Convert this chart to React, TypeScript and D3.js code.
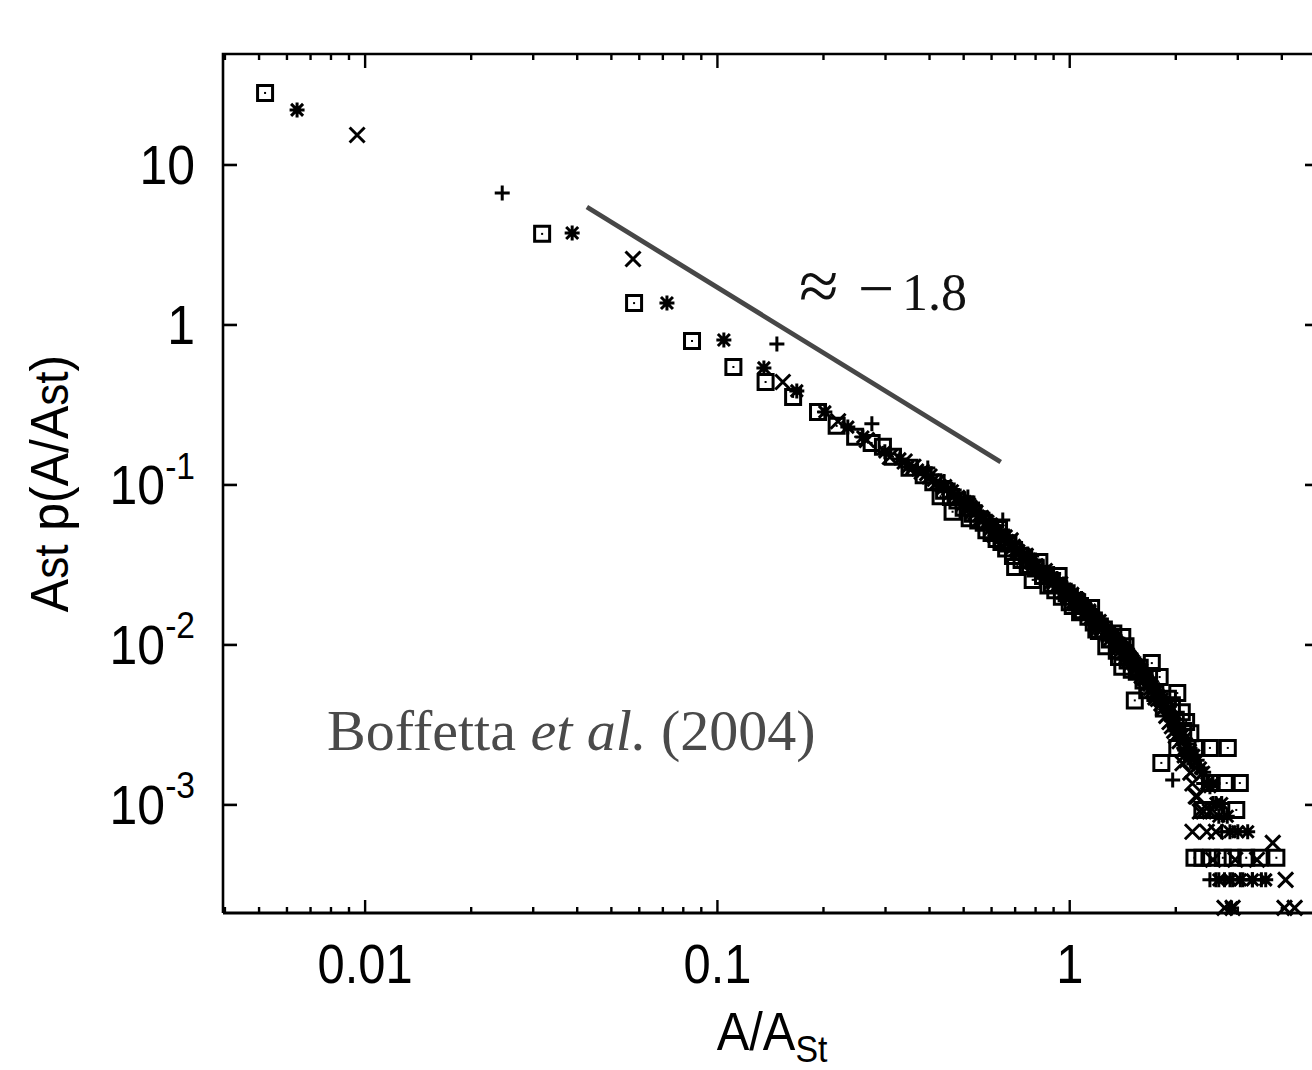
import React from "react";
import * as d3 from "d3";

const W = 1312;
const H = 1070;
const FRAME = { left: 223, top: 54, right: 1319, bottom: 913 };

const xDomain: [number, number] = [0.00395, 5.1];
const yDomain: [number, number] = [2.11e-4, 49.4];

const xTickLabels = [
  { v: 0.01, t: "0.01" },
  { v: 0.1, t: "0.1" },
  { v: 1, t: "1" },
];
const yTickLabels = [
  { v: 10, b: "10", e: "" },
  { v: 1, b: "1", e: "" },
  { v: 0.1, b: "10", e: "-1" },
  { v: 0.01, b: "10", e: "-2" },
  { v: 0.001, b: "10", e: "-3" },
];

// fitted slope guide line (endpoints)
const fitLine: [number, number][] = [
  [0.0426, 5.46],
  [0.637, 0.139],
];

// series 1: open squares
const squares: [number, number][] = [
  [0.0052, 28.2], [0.0318, 3.71], [0.058, 1.37], [0.0847, 0.794], [0.111, 0.546],
  [0.137, 0.44], [0.164, 0.355], [0.193, 0.286], [0.218, 0.234], [0.246, 0.2],
  [0.274, 0.183], [0.295, 0.173], [0.315, 0.15], [0.351, 0.128],
  [0.385, 0.115], [0.41, 0.104], [0.43, 0.085], [0.44, 0.092], [0.46, 0.084],
  [0.465, 0.068], [0.48, 0.08],
  [0.5, 0.072], [0.52, 0.062], [0.53, 0.066], [0.55, 0.06], [0.57, 0.058],
  [0.58, 0.052], [0.6, 0.05], [0.62, 0.046], [0.63, 0.053], [0.64, 0.044],
  [0.66, 0.04], [0.67, 0.043], [0.69, 0.036], [0.7, 0.0307], [0.73, 0.034],
  [0.76, 0.031], [0.785, 0.0255], [0.8, 0.03], [0.82, 0.033], [0.84, 0.027],
  [0.87, 0.0235], [0.89, 0.024], [0.91, 0.022], [0.93, 0.027], [0.95, 0.02],
  [0.98, 0.021], [1.0, 0.0185], [1.02, 0.0175], [1.05, 0.0185], [1.07, 0.016],
  [1.09, 0.0165], [1.13, 0.015], [1.15, 0.017], [1.17, 0.0138], [1.19, 0.0125],
  [1.21, 0.0122], [1.25, 0.0125], [1.27, 0.0098], [1.3, 0.0108], [1.33, 0.0118],
  [1.36, 0.0092], [1.38, 0.0084], [1.41, 0.0112], [1.41, 0.0073], [1.44, 0.0098],
  [1.46, 0.008], [1.5, 0.007], [1.53, 0.0045], [1.55, 0.0068], [1.58, 0.0072],
  [1.62, 0.006], [1.66, 0.0052], [1.68, 0.0064], [1.71, 0.0077], [1.75, 0.005],
  [1.8, 0.0063], [1.85, 0.004], [1.9, 0.0046], [1.95, 0.0042], [2.02, 0.005],
  [2.0, 0.0034], [2.08, 0.0038], [2.1, 0.0029], [2.14, 0.0033], [2.2, 0.0028],
  [2.02, 0.00227], [2.16, 0.00227], [2.29, 0.00227], [2.5, 0.00227], [2.81, 0.00227],
  [1.82, 0.00183],
  [2.5, 0.00137], [2.79, 0.00137], [3.04, 0.00137],
  [2.38, 0.00093], [2.61, 0.00093], [2.97, 0.00093],
  [2.26, 0.000467], [2.38, 0.000467], [2.52, 0.000467], [2.72, 0.000467],
  [2.9, 0.000467], [3.17, 0.000467], [3.46, 0.000467], [3.86, 0.000467],
];

// series 2: asterisks
const asterisks: [number, number][] = [
  [0.00641, 22.1], [0.0387, 3.76], [0.0719, 1.372], [0.1043, 0.806], [0.1355, 0.539],
  [0.168, 0.387], [0.2018, 0.286], [0.2345, 0.23], [0.2587, 0.1995], [0.2987, 0.161],
  [0.3295, 0.1454], [0.347, 0.1296],
  [0.37, 0.124], [0.39, 0.116], [0.41, 0.107], [0.43, 0.099], [0.45, 0.094],
  [0.47, 0.086], [0.49, 0.08], [0.51, 0.074], [0.52, 0.076], [0.53, 0.07], [0.55, 0.064],
  [0.57, 0.061], [0.59, 0.056], [0.6, 0.057], [0.61, 0.052], [0.63, 0.049], [0.65, 0.046],
  [0.66, 0.048], [0.68, 0.042], [0.7, 0.039], [0.72, 0.037], [0.74, 0.037], [0.75, 0.034],
  [0.78, 0.032], [0.79, 0.03], [0.81, 0.03], [0.84, 0.028], [0.86, 0.028], [0.87, 0.026],
  [0.9, 0.0245], [0.93, 0.023], [0.95, 0.023], [0.97, 0.021], [1.0, 0.0198], [1.02, 0.021],
  [1.04, 0.0185], [1.06, 0.0175], [1.08, 0.0172], [1.12, 0.016], [1.14, 0.0165],
  [1.16, 0.0146], [1.2, 0.0135], [1.22, 0.0142], [1.24, 0.0126], [1.28, 0.0116],
  [1.3, 0.0118], [1.33, 0.0105], [1.35, 0.0108], [1.37, 0.0098], [1.4, 0.0096],
  [1.42, 0.009], [1.45, 0.0092], [1.47, 0.0082], [1.5, 0.0082], [1.52, 0.0075],
  [1.55, 0.0075], [1.57, 0.0069], [1.6, 0.007], [1.62, 0.0062], [1.65, 0.0063],
  [1.68, 0.0056], [1.7, 0.0058], [1.74, 0.005], [1.77, 0.0052], [1.8, 0.0045],
  [1.83, 0.0046], [1.86, 0.0041], [1.9, 0.004], [1.93, 0.0036], [1.97, 0.0035],
  [2.0, 0.0032], [2.04, 0.003], [2.08, 0.0027], [2.12, 0.0026], [2.15, 0.0024],
  [2.2, 0.0022], [2.3, 0.0019], [2.4, 0.0016], [2.5, 0.0013],
  [2.25, 0.00204], [2.35, 0.0017], [2.45, 0.00136], [2.55, 0.00136], [2.6, 0.00102],
  [2.7, 0.00102], [2.65, 0.00085], [2.8, 0.00085], [2.85, 0.00068], [3.0, 0.00068],
  [3.2, 0.00068],
  [2.65, 0.00034], [2.85, 0.00034], [3.05, 0.00034], [3.3, 0.00034], [3.6, 0.00034],
  [2.88, 0.000227],
];

// series 3: crosses
const crosses: [number, number][] = [
  [0.00949, 15.4], [0.0576, 2.585], [0.1533, 0.44], [0.22, 0.25], [0.2655, 0.191],
  [0.3086, 0.1496],
  [0.34, 0.14], [0.36, 0.13], [0.38, 0.121], [0.4, 0.113], [0.42, 0.104],
  [0.44, 0.097], [0.46, 0.09], [0.48, 0.083], [0.5, 0.077], [0.52, 0.072],
  [0.53, 0.068], [0.54, 0.067], [0.56, 0.062], [0.58, 0.058], [0.6, 0.054],
  [0.61, 0.049], [0.62, 0.051], [0.64, 0.047], [0.66, 0.044], [0.68, 0.045],
  [0.69, 0.041], [0.71, 0.038], [0.74, 0.035], [0.75, 0.036], [0.77, 0.033],
  [0.8, 0.031], [0.83, 0.028], [0.85, 0.029], [0.86, 0.027], [0.89, 0.025],
  [0.92, 0.0235], [0.94, 0.024], [0.96, 0.0215], [0.99, 0.0202], [1.03, 0.0188],
  [1.05, 0.019], [1.07, 0.0175], [1.11, 0.016], [1.13, 0.0158], [1.15, 0.0149],
  [1.19, 0.0138], [1.21, 0.013], [1.23, 0.0128], [1.27, 0.0119], [1.29, 0.0115],
  [1.31, 0.011], [1.36, 0.01], [1.38, 0.0097], [1.4, 0.0093], [1.45, 0.0085],
  [1.47, 0.0083], [1.5, 0.0078], [1.55, 0.0071], [1.57, 0.0068], [1.6, 0.0064],
  [1.63, 0.0062], [1.66, 0.0057], [1.7, 0.0054], [1.72, 0.0052], [1.75, 0.0047],
  [1.78, 0.0046], [1.82, 0.0043], [1.84, 0.004], [1.88, 0.0036], [1.92, 0.0033],
  [1.95, 0.0031], [1.98, 0.0029], [2.0, 0.0027], [2.05, 0.0025], [2.1, 0.0022],
  [2.15, 0.0019],
  [2.09, 0.00182], [2.12, 0.00204], [2.2, 0.00159], [2.23, 0.00136], [2.28, 0.00113],
  [2.3, 0.00113], [2.34, 0.00091], [2.4, 0.00091], [2.5, 0.00091],
  [2.23, 0.00068], [2.45, 0.00068], [2.6, 0.00068], [3.77, 0.000579],
  [2.55, 0.000454], [2.95, 0.000454], [3.4, 0.000454], [4.1, 0.00034],
  [2.75, 0.000227], [2.9, 0.000227], [4.07, 0.000227], [4.35, 0.000227],
];

// series 4: plus signs
const pluses: [number, number][] = [
  [0.0245, 6.68], [0.1475, 0.761], [0.2744, 0.241], [0.3955, 0.1277],
  [0.44, 0.105], [0.47, 0.093], [0.5, 0.082], [0.514, 0.0841], [0.53, 0.077],
  [0.56, 0.068], [0.59, 0.061], [0.62, 0.055], [0.64, 0.051], [0.6456, 0.0604],
  [0.67, 0.048], [0.7, 0.043], [0.73, 0.04], [0.76, 0.037], [0.78, 0.036],
  [0.8, 0.034], [0.84, 0.031], [0.88, 0.028], [0.9, 0.028], [0.92, 0.026],
  [0.96, 0.024], [0.98, 0.023], [1.01, 0.022], [1.05, 0.02], [1.08, 0.0195],
  [1.1, 0.018], [1.15, 0.0165], [1.17, 0.0158], [1.2, 0.015], [1.23, 0.0145],
  [1.26, 0.0133], [1.31, 0.0122], [1.34, 0.0118], [1.37, 0.011], [1.4, 0.0104],
  [1.43, 0.0098], [1.46, 0.0094], [1.49, 0.0088], [1.52, 0.0083], [1.55, 0.0078],
  [1.58, 0.0074], [1.62, 0.0068], [1.65, 0.0064], [1.69, 0.0059], [1.72, 0.0056],
  [1.76, 0.0051], [1.8, 0.0048], [1.83, 0.0044], [1.87, 0.0041], [1.9, 0.0038],
  [1.94, 0.0035], [1.98, 0.0032], [2.0, 0.0029],
  [2.05, 0.0026], [2.12, 0.0022], [2.15, 0.0021], [2.2, 0.0019], [2.25, 0.0018],
  [1.96, 0.00143], [2.3, 0.0017], [2.4, 0.00136], [2.55, 0.00102], [2.7, 0.00068],
  [2.5, 0.00034], [2.6, 0.00034], [2.75, 0.00034], [2.9, 0.00034], [3.1, 0.00034],
  [3.3, 0.00034], [3.5, 0.00034],
];

const SANS = "'Liberation Sans', Arial, Helvetica, sans-serif";
const SERIF = "'Liberation Serif', 'Times New Roman', serif";

export default function App() {
  const x = d3.scaleLog().domain(xDomain).range([FRAME.left, FRAME.right]);
  const y = d3.scaleLog().domain(yDomain).range([FRAME.bottom, FRAME.top]);

  const xt = x.ticks().filter((v) => x(v) > FRAME.left + 1 && x(v) < FRAME.right - 1);
  const isMajor = (v: number) => Math.abs(Math.log10(v) - Math.round(Math.log10(v))) < 1e-6;
  const yt = y.ticks().filter(isMajor);

  const r = 7.5;
  const sw = 3;
  const squarePath = (cx: number, cy: number) =>
    `M${cx - r},${cy - r}H${cx + r}V${cy + r}H${cx - r}Z`;
  const crossPath = (cx: number, cy: number) =>
    `M${cx - r},${cy - r}L${cx + r},${cy + r}M${cx - r},${cy + r}L${cx + r},${cy - r}`;
  const plusPath = (cx: number, cy: number) =>
    `M${cx - r},${cy}H${cx + r}M${cx},${cy - r}V${cy + r}`;
  const starPath = (cx: number, cy: number) => {
    const d = r * 0.8;
    return `M${cx - r},${cy}H${cx + r}M${cx},${cy - r}V${cy + r}M${cx - d},${cy - d}L${cx + d},${cy + d}M${cx - d},${cy + d}L${cx + d},${cy - d}`;
  };

  const fitGen = d3
    .line<[number, number]>()
    .x((d) => x(d[0]))
    .y((d) => y(d[1]));

  return (
    <svg
      width={W}
      height={H}
      style={{ position: "absolute", left: 0, top: 0, background: "#fff" }}
    >
      <rect x={0} y={0} width={W} height={H} fill="#fff" />
      {/* frame */}
      <path
        d={`M${FRAME.left},${FRAME.bottom}V${FRAME.top}H${FRAME.right}V${FRAME.bottom}`}
        fill="none"
        stroke="#000"
        strokeWidth={2.6}
      />
      <line x1={FRAME.left} x2={FRAME.right} y1={FRAME.bottom} y2={FRAME.bottom} stroke="#000" strokeWidth={3.2} />

      {/* x ticks, bottom & top */}
      {xt.map((v, i) => {
        const px = x(v);
        const len = isMajor(v) ? 13 : 6;
        return (
          <g key={"xt" + i}>
            <line x1={px} x2={px} y1={FRAME.bottom} y2={FRAME.bottom - len} stroke="#000" strokeWidth={2.4} />
            <line x1={px} x2={px} y1={FRAME.top} y2={FRAME.top + len + (isMajor(v) ? 1 : 0)} stroke="#000" strokeWidth={2.4} />
          </g>
        );
      })}
      {/* y ticks, left & right */}
      {yt.map((v, i) => {
        const py = y(v);
        return (
          <g key={"yt" + i}>
            <line x1={FRAME.left} x2={FRAME.left + 14} y1={py} y2={py} stroke="#000" strokeWidth={2.6} />
            <line x1={FRAME.right} x2={FRAME.right - 14} y1={py} y2={py} stroke="#000" strokeWidth={2.6} />
          </g>
        );
      })}

      {/* tick labels */}
      {xTickLabels.map((d) => (
        <text
          key={"xl" + d.t}
          transform={`translate(${x(d.v)},983) scale(0.94,1.06)`}
          textAnchor="middle"
          fontFamily={SANS}
          fontSize={52}
          fill="#000"
        >
          {d.t}
        </text>
      ))}
      {yTickLabels.map((d) => (
        <text
          key={"yl" + d.v}
          transform={`translate(195,${y(d.v) + 19}) scale(0.96,1.06)`}
          textAnchor="end"
          fontFamily={SANS}
          fontSize={52}
          fill="#000"
        >
          {d.b}
          {d.e ? (
            <tspan dy={-24} fontSize={35}>
              {d.e}
            </tspan>
          ) : null}
        </text>
      ))}

      {/* axis titles */}
      <text
        transform="translate(772,1050) scale(0.94,1.04)"
        textAnchor="middle"
        fontFamily={SANS}
        fontSize={52}
        fill="#000"
      >
        A/A
        <tspan dy={12} fontSize={36}>
          St
        </tspan>
      </text>
      <text
        transform={`translate(68,${(FRAME.top + FRAME.bottom) / 2}) rotate(-90) scale(0.96,1.04)`}
        textAnchor="middle"
        fontFamily={SANS}
        fontSize={52}
        fill="#000"
      >
        A<tspan fontSize={46}>st</tspan> p(A/A<tspan fontSize={46}>st</tspan>)
      </text>

      {/* slope guide */}
      <path d={fitGen(fitLine) || ""} stroke="#474747" strokeWidth={4.8} fill="none" />
      <text y={310} fontFamily={SERIF} fontSize={52} fill="#111">
        <tspan x={799} fontSize={72}>≈</tspan>
        <tspan x={858} fontSize={64}>−</tspan>
        <tspan x={902}>1.8</tspan>
      </text>

      <text x={327} y={750} fontFamily={SERIF} fontSize={58} fill="#4a4a4a">
        Boffetta <tspan fontStyle="italic">et al.</tspan> (2004)
      </text>

      {/* data */}
      <g fill="none" stroke="#000" strokeWidth={sw}>
        {squares.map((d, i) => (
          <g key={"s" + i}>
            <path d={squarePath(x(d[0]), y(d[1]))} />
            <rect x={x(d[0]) - 1} y={y(d[1]) - 1} width={2} height={2} fill="#000" stroke="none" />
          </g>
        ))}
        {asterisks.map((d, i) => (
          <path key={"a" + i} d={starPath(x(d[0]), y(d[1]))} />
        ))}
        {crosses.map((d, i) => (
          <path key={"c" + i} d={crossPath(x(d[0]), y(d[1]))} />
        ))}
        {pluses.map((d, i) => (
          <path key={"p" + i} d={plusPath(x(d[0]), y(d[1]))} />
        ))}
      </g>
    </svg>
  );
}
